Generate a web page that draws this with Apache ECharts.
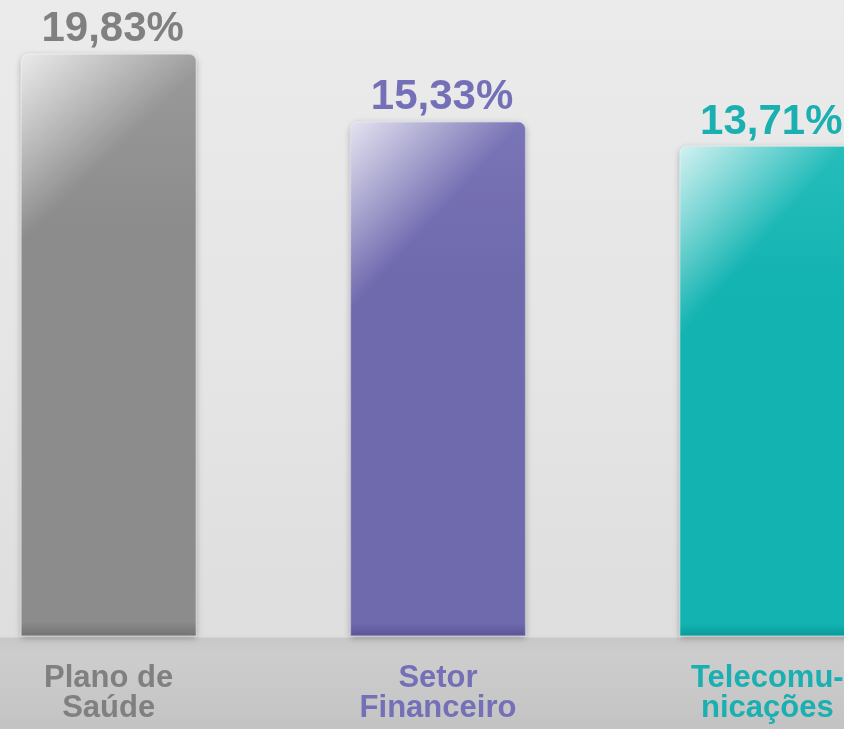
<!DOCTYPE html>
<html>
<head>
<meta charset="utf-8">
<script src="https://cdn.jsdelivr.net/npm/echarts@6/dist/echarts.min.js"></script>
<style>
html,body{margin:0;padding:0;overflow:hidden;width:844px;height:729px;}
#wrap{position:relative;width:844px;height:729px;overflow:hidden;background:#e6e6e6;}
#chart{position:absolute;left:-56px;top:0;width:988px;height:729px;}
</style>
</head>
<body>
<div id="wrap"><div id="chart"></div></div>
<script>
const categories = ['Plano de\nSaúde', 'Setor\nFinanceiro', 'Telecomu-\nnicações'];
const values = [19.83, 15.33, 13.71];
const valueLabels = ['19,83%', '15,33%', '13,71%'];

const palette = [
  { top: '#9a9a9a', main: '#8c8c8c', bottom: '#737373', label: '#808080' },
  { top: '#7a75b6', main: '#6f69ae', bottom: '#5b5597', label: '#7470b8' },
  { top: '#26bdbb', main: '#12b3b1', bottom: '#089a99', label: '#1aafb0' }
];
const Y_MIN = -18.72;
const Y_MAX = 23.4;
const FONT = '"Liberation Sans", Arial, sans-serif';

const chart = echarts.init(document.getElementById('chart'));
chart.setOption({
  animation: false,
  backgroundColor: new echarts.graphic.LinearGradient(0, 0, 0, 1, [
    { offset: 0, color: '#ebebeb' },
    { offset: 0.5, color: '#e5e5e5' },
    { offset: 0.873, color: '#dedede' },
    { offset: 0.876, color: '#c8c8c8' },
    { offset: 0.9, color: '#cdcdcd' },
    { offset: 1, color: '#c3c3c3' }
  ]),
  grid: { left: 0, right: 0, top: 0, bottom: 93 },
  xAxis: {
    type: 'category',
    data: categories.map((c, i) => ({ value: c, textStyle: { color: palette[i].label } })),
    axisLine: { show: false },
    axisTick: { show: false },
    splitLine: { show: false },
    axisLabel: {
      interval: 0,
      margin: 27,
      fontSize: 31,
      lineHeight: 30,
      fontWeight: 'bold',
      fontFamily: FONT
    }
  },
  yAxis: { type: 'value', min: Y_MIN, max: Y_MAX, show: false, splitLine: { show: false } },
  series: [{
    type: 'custom',
    data: values.map((v, i) => [i, v]),
    renderItem: function (params, api) {
      const i = api.value(0);
      const top = api.coord([i, api.value(1)]);
      const base = api.coord([i, Y_MIN]);
      const bw = api.size([1, 0])[0] * 0.532;
      const x = top[0] - bw / 2, y = top[1], h = base[1] - top[1];
      const c = palette[i];
      const shape = { x: x, y: y, width: bw, height: h, r: [7, 7, 0, 0] };
      return {
        type: 'group',
        children: [
          {
            type: 'rect', shape: shape,
            style: {
              fill: new echarts.graphic.LinearGradient(0, 0, 0, 1, [
                { offset: 0, color: c.top },
                { offset: 0.3, color: c.main },
                { offset: 0.975, color: c.main },
                { offset: 1, color: c.bottom }
              ]),
              shadowBlur: 6, shadowColor: 'rgba(0,0,0,0.3)', shadowOffsetY: 2
            }
          },
          {
            type: 'rect', shape: shape,
            style: {
              fill: new echarts.graphic.LinearGradient(0, 0, 0.9, 0.28, [
                { offset: 0, color: 'rgba(255,255,255,0.8)' },
                { offset: 0.6, color: 'rgba(255,255,255,0)' },
                { offset: 1, color: 'rgba(255,255,255,0)' }
              ]),
              stroke: 'rgba(255,255,255,0.4)', lineWidth: 1.5
            }
          },
          {
            type: 'text',
            style: {
              text: valueLabels[i], x: top[0] + 4, y: y - 3,
              align: 'center', verticalAlign: 'bottom',
              font: 'bold 42px ' + FONT, fill: c.label
            }
          }
        ]
      };
    }
  }]
});
</script>
</body>
</html>
